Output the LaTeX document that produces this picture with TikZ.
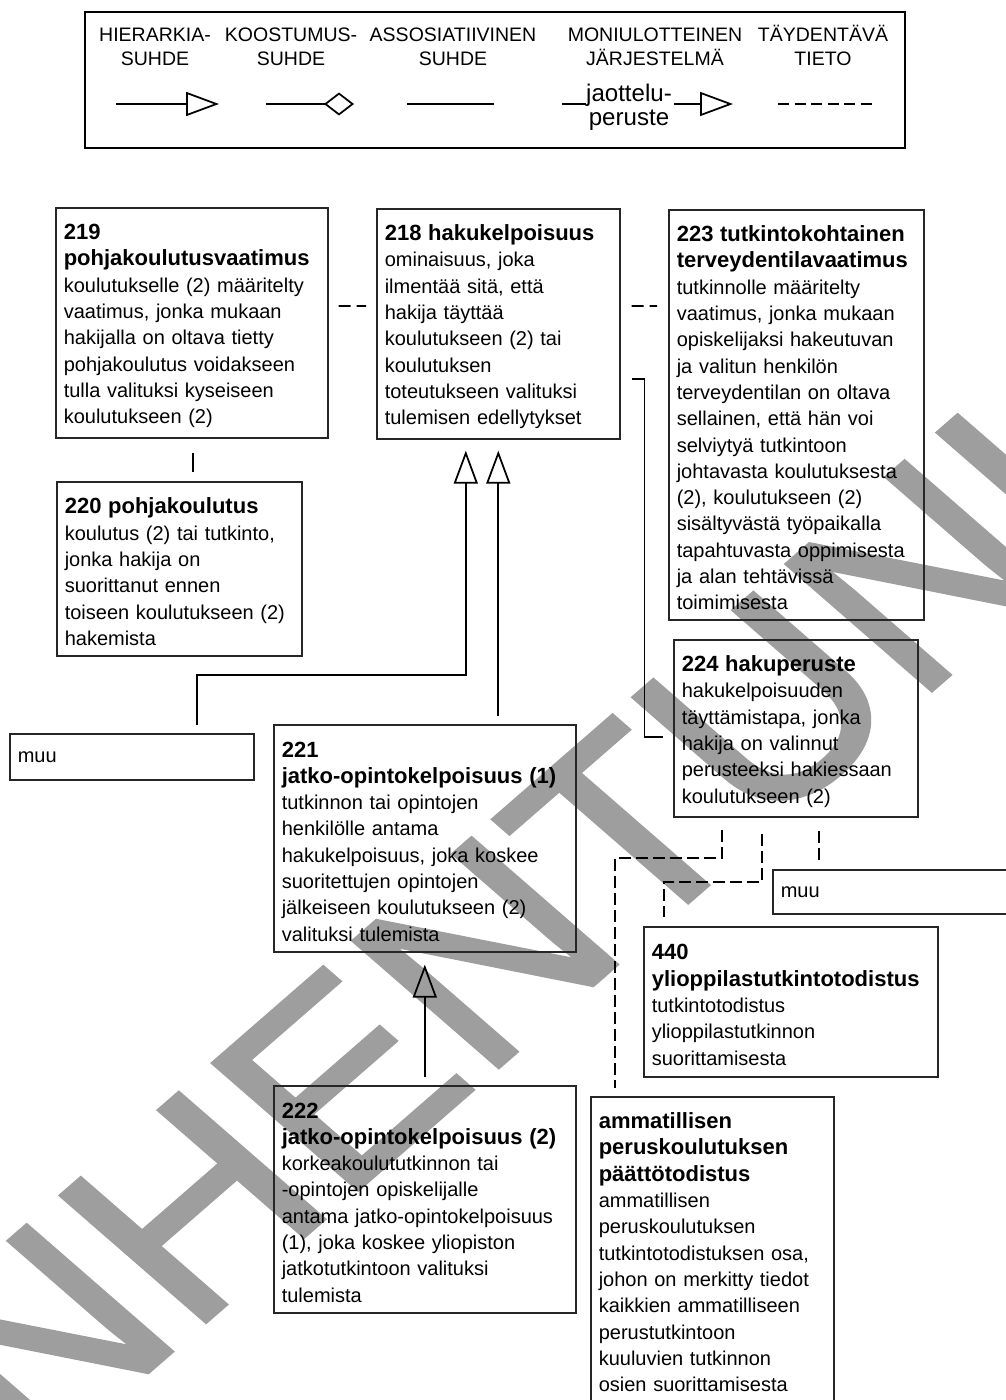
\documentclass[tikz,border=0pt]{standalone}
\usepackage{fontspec}
\setmainfont{Liberation Sans}
\newfontfamily\stampfont[FakeBold=1.5]{Liberation Sans}
\usepackage{tikz}
\usetikzlibrary{arrows.meta, positioning, calc}
\pgfdeclarelayer{background}
\pgfsetlayers{background,main}
\definecolor{wmgray}{gray}{0.62}
\newcommand{\term}[1]{{\fontsize{12.52}{14.97}\selectfont\bfseries #1}}

\begin{document}
\begin{tikzpicture}[>=Latex,
    frame/.style={draw=black!85, line width=0.9pt, align=left, anchor=north west,
      inner xsep=0.16cm, inner ysep=0.2cm, font=\fontsize{11.38}{14.97}\selectfont},
    box/.style={frame, execute at begin node={\rule{0pt}{12.4pt}}},
    conn/.style={line width=1pt},
    isa/.style={conn, -{Triangle[open, length=0.66cm, width=0.48cm]}},
    part/.style={conn, -{Diamond[open, length=0.6cm, width=0.46cm]}},
    extra/.style={conn, dash pattern=on 0.24cm off 0.1cm},
    pair/.style={conn, dash pattern=on 0.24cm off 0.12cm},
    legend/.style={align=center, font=\fontsize{11.1}{13.66}\selectfont}]
  \useasboundingbox (0,0) rectangle (20.12,-28.0);
  % watermark across the page
  \begin{pgfonlayer}{background}
    \begin{scope}[shift={(9.76,-19.04)}, yscale=0.87, rotate=45]
      \node[transform shape, text=wmgray, inner sep=0, font=\stampfont\fontsize{169.6}{169.6}\selectfont] (stamp) at (0,0) {VANHENTUNUT};
    \end{scope}
  \end{pgfonlayer}
  % legend
  \draw[line width=1.2pt] (1.70,-0.24) rectangle (18.10,-2.96);
  \node[legend] (lg1) at (3.10,-0.90) {\vphantom{Ä}HIERARKIA-\\SUHDE};
  \node[legend] (lg2) at (5.82,-0.90) {\vphantom{Ä}KOOSTUMUS-\\SUHDE};
  \node[legend] (lg3) at (9.06,-0.90) {\vphantom{Ä}ASSOSIATIIVINEN\\SUHDE};
  \node[legend] (lg4) at (13.10,-0.90) {\vphantom{Ä}MONIULOTTEINEN\\JÄRJESTELMÄ};
  \node[legend] (lg5) at (16.46,-0.90) {\vphantom{Ä}TÄYDENTÄVÄ\\TIETO};
  \draw[isa] (2.32,-2.08) -- (4.38,-2.08);
  \draw[part] (5.32,-2.08) -- (7.08,-2.08);
  \draw[conn] (8.14,-2.08) -- (9.88,-2.08);
  \node[align=center, inner sep=0, font=\fontsize{13.7}{13.7}\selectfont] (lgj) at (12.58,-2.14) {jaottelu-\\peruste};
  \draw[conn] (11.24,-2.08) -- (lgj.west |- 0,-2.08);
  \draw[isa] ($(lgj.east |- 0,-2.08)+(0.04,0)$) -- (14.66,-2.08);
  \draw[extra, dash pattern=on 0.22cm off 0.11cm] (15.56,-2.08) -- (17.46,-2.08);
  % concept boxes
  \node[box, text width=5.12cm, minimum height=4.56cm] (n219) at (1.10,-4.14)
    {\term{219}\\\term{pohjakoulutusvaatimus}\\koulutukselle (2) määritelty\\vaatimus, jonka mukaan\\hakijalla on oltava tietty\\pohjakoulutus voidakseen\\tulla valituksi kyseiseen\\koulutukseen (2)};
  \node[box, text width=4.54cm, minimum height=4.52cm] (n218) at (7.52,-4.16)
    {\term{218 hakukelpoisuus}\\ominaisuus, joka\\ilmentää sitä, että\\hakija täyttää\\koulutukseen (2) tai\\koulutuksen\\toteutukseen valituksi\\tulemisen edellytykset};
  \node[box, text width=4.78cm, minimum height=8.18cm] (n223) at (13.36,-4.18)
    {\term{223 tutkintokohtainen}\\\term{terveydentilavaatimus}\\tutkinnolle määritelty\\vaatimus, jonka mukaan\\opiskelijaksi hakeutuvan\\ja valitun henkilön\\terveydentilan on oltava\\sellainen, että hän voi\\selviytyä tutkintoon\\johtavasta koulutuksesta\\(2), koulutukseen (2)\\sisältyvästä työpaikalla\\tapahtuvasta oppimisesta\\ja alan tehtävissä\\toimimisesta};
  \node[box, text width=4.58cm, minimum height=3.48cm] (n220) at (1.12,-9.62)
    {\term{220 pohjakoulutus}\\koulutus (2) tai tutkinto,\\jonka hakija on\\suorittanut ennen\\toiseen koulutukseen (2)\\hakemista};
  \node[frame, text width=4.56cm, minimum height=0.92cm] (muuL) at (0.18,-14.66) {muu};
  \node[box, text width=5.72cm, minimum height=4.54cm] (n221) at (5.46,-14.48)
    {\term{221}\\\term{jatko-opintokelpoisuus (1)}\\tutkinnon tai opintojen\\henkilölle antama\\hakukelpoisuus, joka koskee\\suoritettujen opintojen\\jälkeiseen koulutukseen (2)\\valituksi tulemista};
  \node[box, text width=4.56cm, minimum height=3.48cm] (n224) at (13.46,-12.78)
    {\term{224 hakuperuste}\\hakukelpoisuuden\\täyttämistapa, jonka\\hakija on valinnut\\perusteeksi hakiessaan\\koulutukseen (2)};
  \node[frame, text width=4.88cm, minimum height=0.88cm] (muuR) at (15.44,-17.38) {muu};
  \node[box, text width=5.56cm, minimum height=3.00cm] (n440) at (12.86,-18.52)
    {\term{440}\\\term{ylioppilastutkintotodistus}\\tutkintotodistus\\ylioppilastutkinnon\\suorittamisesta};
  \node[box, text width=5.72cm, minimum height=4.54cm] (n222) at (5.46,-21.70)
    {\term{222}\\\term{jatko-opintokelpoisuus (2)}\\korkeakoulututkinnon tai\\-opintojen opiskelijalle\\antama jatko-opintokelpoisuus\\(1), joka koskee yliopiston\\jatkotutkintoon valituksi\\tulemista};
  \node[box, text width=4.54cm] (nAmm) at (11.80,-21.92)
    {\term{ammatillisen}\\\term{peruskoulutuksen}\\\term{päättötodistus}\\ammatillisen\\peruskoulutuksen\\tutkintotodistuksen osa,\\johon on merkitty tiedot\\kaikkien ammatilliseen\\perustutkintoon\\kuuluvien tutkinnon\\osien suorittamisesta};
  % relations
  \draw[conn] ($(n219.south)+(0.02,-0.28)$) -- ($(n219.south |- n220.north)+(0.02,0.18)$);
  \draw[pair] ($(n219.north east)+(0.20,-1.98)$) -- ($(n218.north west)+(-0.20,-1.96)$);
  \draw[pair] ($(n218.north east)+(0.22,-1.96)$) -- ($(n223.north west)+(-0.22,-1.94)$);
  \draw[conn] ($(n218.north east)+(0.22,-3.42)$) -- ++(0.26,0) |- ($(n224.north west)+(-0.20,-1.96)$);
  \draw[isa] ($(n221.north -| n218.south)+(0,0.16)$) -- ($(n218.south)+(0,-0.22)$);
  \draw[isa] ($(muuL.north west)+(3.76,0.16)$) |- ($(n218.south)+(-0.65,-4.70)$) -- ($(n218.south)+(-0.65,-0.22)$);
  \draw[isa] ($(n222.north)+(0,0.16)$) -- ($(n221.south)+(0,-0.24)$);
  \draw[extra] ($(n224.south west)+(0.98,-0.24)$) -- ++(0,-0.56) -| ($(nAmm.north west)+(0.50,0.16)$);
  \draw[extra] ($(n224.south west)+(1.78,-0.32)$) -- ++(0,-0.96) -| ($(n440.north west)+(0.42,0.18)$);
  \draw[extra] ($(n224.south west)+(2.92,-0.26)$) -- ($(muuR.north west)+(0.94,0.18)$);
\end{tikzpicture}
\end{document}
